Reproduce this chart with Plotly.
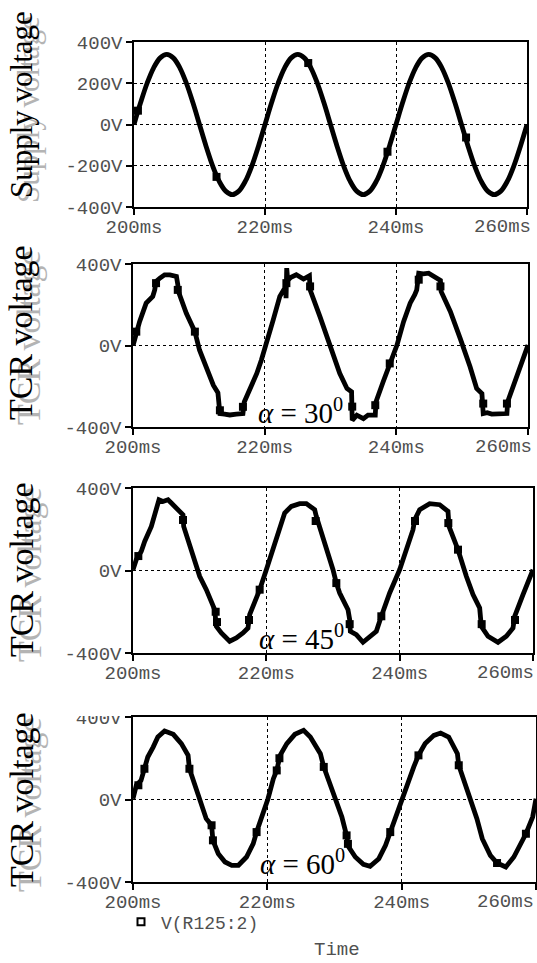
import plotly.graph_objects as go

# ---------------- data (time in ms, voltage in V) ----------------
x_ticks = [200, 220, 240, 260]
x_ticktext = ["200ms", "220ms", "240ms", "260ms"]
y_ticks_supply = [-400, -200, 0, 200, 400]
y_ticktext_supply = ["-400V", "-200V", "0V", "200V", "400V"]
y_ticks_tcr = [-400, 0, 400]
y_ticktext_tcr = ["-400V", "0V", "400V"]

t_supply = list(range(200, 261))
v_supply = [0, 105, 200, 275, 323, 340, 323, 275, 200, 105,
            0, -105, -200, -275, -323, -340, -323, -275, -200, -105,
            0, 105, 200, 275, 323, 340, 323, 275, 200, 105,
            0, -105, -200, -275, -323, -340, -323, -275, -200, -105,
            0, 105, 200, 275, 323, 340, 323, 275, 200, 105,
            0, -105, -200, -275, -323, -340, -323, -275, -200, -105,
            0]
mk_t_supply = [200.6, 212.6, 226.6, 238.7, 250.7]
mk_v_supply = [67, -254, 298, -132, -63]

t_a30 = [200.0, 200.5, 201.0, 202.0, 202.5, 203.0, 203.3, 203.5, 204.1, 204.8, 205.6, 206.6, 206.8, 206.9,
         208.1, 209.4, 210.1, 211.2, 212.2, 212.9, 213.05, 213.2, 213.9, 214.7, 215.7, 216.7, 216.9,
         217.7, 218.8, 219.5, 220.1,
         221.3, 222.3, 222.8, 223.2, 223.25, 223.35, 223.5, 224.0, 224.8, 225.9, 226.8, 226.9,
         228.4, 229.9, 231.4, 232.5, 233.2, 233.3, 234.0, 235.0, 235.7, 236.8, 236.9, 238.0, 239.0, 240.1,
         241.1, 242.1, 242.8, 243.1, 243.4, 244.1, 244.9, 245.6, 246.7, 246.8, 248.2, 249.7, 250.2,
         251.2, 252.2, 253.0, 253.2, 253.8, 254.5, 255.8, 256.8, 256.9, 258.3, 260.0]
v_a30 = [0, 68, 117, 208, 227, 241, 273, 314, 331, 347, 347, 339, 300, 265,
         158, 68, -22, -121, -195, -232, -285, -334, -337, -341, -337, -334, -277,
         -219, -137, -71, 2,
         126, 241, 273, 290, 232, 380, 320, 335, 347, 326, 342, 273,
         142, 2, -137, -211, -227, -367, -342, -359, -342, -342, -277, -178, -88, 2,
         117, 208, 249, 273, 355, 352, 355, 342, 319, 265, 167, 35, -6,
         -104, -211, -236, -334, -330, -337, -337, -334, -277, -154, 2]
mk_t_a30 = [200.5, 203.5, 206.8, 209.4, 213.2, 216.7, 223.3, 226.9, 233.3, 236.8, 239.0, 243.4, 246.7, 253.2, 256.8]
mk_v_a30 = [68, 306, 273, 68, -318, -301, 306, 290, -300, -293, -88, 323, 290, -285, -285]

t_a45 = [200.0, 200.5, 201.25, 201.75, 202.75, 203.5, 203.9, 204.5, 205.25, 205.75, 207.25, 207.5, 207.6,
         208.5, 209.5, 210.0, 211.0, 212.0, 212.25, 212.5, 213.25, 214.5, 215.5, 216.5, 217.25, 217.5,
         218.5, 219.0, 220.0,
         221.0, 222.0, 222.75, 223.75, 225.0, 226.0, 227.25, 227.5, 229.0, 230.0, 230.5, 231.0, 232.25,
         232.5, 232.6, 233.5, 234.5, 235.5, 236.5, 237.25, 238.5, 240.0,
         241.0, 242.0, 242.25, 243.0, 244.5, 246.0, 247.25, 247.4, 248.75, 249.5, 250.0, 251.0, 252.0,
         252.25, 253.25, 254.75, 256.0, 257.0, 257.25, 258.5, 260.0]
v_a45 = [4, 53, 93, 141, 214, 287, 343, 335, 343, 327, 279, 270, 214,
         117, 20, -28, -93, -166, -190, -271, -303, -343, -327, -303, -279, -214,
         -141, -93, 4,
         109, 214, 279, 311, 324, 324, 295, 262, 117, 4, -61, -109, -190,
         -238, -295, -311, -348, -319, -295, -222, -109, 4,
         109, 198, 246, 295, 324, 319, 287, 214, 101, 12, -28, -117, -182,
         -271, -319, -348, -319, -279, -222, -117, 4]
mk_t_a45 = [200.8, 207.5, 212.4, 212.6, 217.4, 219.0, 227.4, 230.5, 232.5, 237.25, 242.3, 247.3, 248.75, 252.3, 257.3]
mk_v_a45 = [70, 245, -200, -250, -240, -93, 240, -61, -260, -222, 240, 230, 101, -260, -240]

t_a60 = [200.0, 200.5, 201.2, 201.7, 202.2, 203.0, 203.7, 204.7, 206.0, 207.2, 208.2, 208.4, 209.5, 210.0,
         210.9, 211.7, 211.9, 212.7, 213.7, 214.7, 215.7, 216.9, 217.9, 218.4, 219.2, 220.1,
         220.9, 221.4, 221.9, 222.9, 224.1, 225.4, 226.4, 227.9, 228.4, 229.6, 230.1,
         231.1, 231.8, 232.1, 233.1, 234.3, 235.3, 236.6, 237.6, 238.3, 239.3, 240.0,
         240.8, 241.8, 242.5, 243.5, 244.8, 245.8, 247.0, 248.3, 248.5, 249.8, 250.2,
         251.2, 252.0, 253.2, 254.2, 255.5, 256.7, 258.5, 259.5, 260.0]
v_a60 = [4, 69, 93, 149, 206, 254, 303, 332, 316, 271, 214, 149, 36, -4,
         -93, -125, -198, -263, -303, -319, -319, -279, -214, -158, -85, 4,
         101, 141, 214, 271, 316, 335, 303, 222, 158, 44, -4,
         -85, -174, -230, -279, -314, -324, -287, -222, -158, -77, 0,
         77, 158, 214, 271, 311, 322, 303, 222, 166, 44, -4,
         -93, -190, -271, -308, -327, -279, -166, -85, 4]
mk_t_a60 = [200.8, 201.7, 208.4, 211.7, 211.9, 218.4, 221.4, 221.8, 228.4, 231.8, 232.0, 238.3, 242.5, 248.5, 254.2, 258.5]
mk_v_a60 = [69, 149, 149, -125, -198, -158, 141, 200, 158, -174, -215, -158, 214, 166, -308, -166]

panel_titles = ["Supply voltage", "TCR voltage", "TCR voltage", "TCR voltage"]
alpha_labels = ["<i>α</i> = 30<sup>0</sup>", "<i>α</i> = 45<sup>0</sup>", "<i>α</i> = 60<sup>0</sup>"]
legend_name = "V(R125:2)"
x_title = "Time"

# ---------------- layout geometry (pixels) ----------------
W, H = 537, 963
panels_px = [  # (left, right, top, bottom)
    (134, 527, 42, 207),
    (133, 528, 264, 427),
    (133, 533, 488, 653),
    (133, 536, 717, 882),
]

series = [
    (t_supply, v_supply, mk_t_supply, mk_v_supply, "spline"),
    (t_a30, v_a30, mk_t_a30, mk_v_a30, "linear"),
    (t_a45, v_a45, mk_t_a45, mk_v_a45, "linear"),
    (t_a60, v_a60, mk_t_a60, mk_v_a60, "linear"),
]

tick_font = dict(family="Liberation Mono", size=19, color="#505050")

fig = go.Figure()
layout = dict(
    width=W, height=H,
    margin=dict(l=0, r=0, t=0, b=0, autoexpand=False),
    paper_bgcolor="white", plot_bgcolor="white",
    showlegend=True,
    legend=dict(x=121 / W, y=1 - 922 / H, xanchor="left", yanchor="middle",
                font=dict(family="Liberation Mono", size=18, color="#505050"),
                bgcolor="rgba(0,0,0,0)", itemwidth=30, tracegroupgap=0),
    annotations=[], shapes=[],
)

for i, (tt, vv, mt, mv, shape) in enumerate(series):
    n = "" if i == 0 else str(i + 1)
    xa, ya = "x" + n, "y" + n
    fig.add_trace(go.Scatter(x=tt, y=vv, mode="lines", xaxis=xa, yaxis=ya,
                             line=dict(color="black", width=4.8, shape=shape),
                             showlegend=False, hoverinfo="skip"))
    fig.add_trace(go.Scatter(x=mt, y=mv, mode="markers", xaxis=xa, yaxis=ya,
                             marker=dict(symbol="square", size=8, color="black"),
                             showlegend=False, hoverinfo="skip"))
    l, r, t, b = panels_px[i]
    if i == 0:
        yt, ytt = y_ticks_supply, y_ticktext_supply
    else:
        yt, ytt = y_ticks_tcr, y_ticktext_tcr
    axis_common = dict(showline=True, linecolor="black", linewidth=1.5, mirror=True,
                       ticks="outside", ticklen=6, tickwidth=1.5, tickcolor="black",
                       showgrid=True, gridcolor="black", gridwidth=1, griddash="dot",
                       zeroline=False, tickfont=tick_font, fixedrange=True,
                       automargin=False)
    # last x tick label is drawn right-aligned at the axis end (as in the reference)
    xt_shown = x_ticktext[:-1] + [""]
    layout["xaxis" + n] = dict(domain=[l / W, r / W], anchor=ya, range=[200, 260],
                               tickvals=x_ticks, ticktext=xt_shown,
                               ticklabelstandoff=-5, **axis_common)
    layout["yaxis" + n] = dict(domain=[1 - b / H, 1 - t / H], anchor=xa, range=[-400, 400],
                               tickvals=yt, ticktext=ytt, **axis_common)
    layout["annotations"].append(dict(
        text=x_ticktext[-1], x=min(r + 6, 536) / W, xref="paper", y=0, yref=ya + " domain",
        xanchor="right", yanchor="middle", yshift=-20,
        showarrow=False, font=tick_font))
    # y-axis title with grey shadow
    cy = [105, 333, 570, 800][i]
    fs = 31 if i == 0 else 34
    layout["annotations"].append(dict(
        text=panel_titles[i], x=(21 + 8) / W, y=1 - (cy + 5) / H, xref="paper", yref="paper",
        showarrow=False, textangle=-90, xanchor="center", yanchor="middle",
        font=dict(family="Liberation Serif", size=fs, color="#b4b4b4")))
    layout["annotations"].append(dict(
        text=panel_titles[i], x=21 / W, y=1 - cy / H, xref="paper", yref="paper",
        showarrow=False, textangle=-90, xanchor="center", yanchor="middle",
        font=dict(family="Liberation Serif", size=fs, color="black")))

# legend-only entry (open square, as in the reference legend)
fig.add_trace(go.Scatter(x=[None], y=[None], mode="markers", name=legend_name,
                         marker=dict(symbol="square-open", size=7, color="black",
                                     line=dict(color="black", width=2)),
                         showlegend=True, hoverinfo="skip"))

for j, (ax, ay) in enumerate([(300, 411), (301, 637), (302, 862)]):
    layout["annotations"].append(dict(
        text=alpha_labels[j], x=ax / W, y=1 - ay / H, xref="paper", yref="paper",
        showarrow=False, xanchor="center", yanchor="middle",
        font=dict(family="Liberation Serif", size=29, color="black")))

layout["annotations"].append(dict(
    text=x_title, x=337 / W, y=0, xref="paper", yref="paper",
    showarrow=False, xanchor="center", yanchor="bottom", font=tick_font))

# top of the last panel's "400V" label is cut off in the reference
layout["shapes"].append(dict(type="rect", xref="paper", yref="paper",
                             x0=60 / W, x1=126 / W, y0=1 - 716 / H, y1=1 - 700 / H,
                             fillcolor="white", line=dict(width=0), layer="above"))

fig.update_layout(**layout)
fig.write_html("out.html")
